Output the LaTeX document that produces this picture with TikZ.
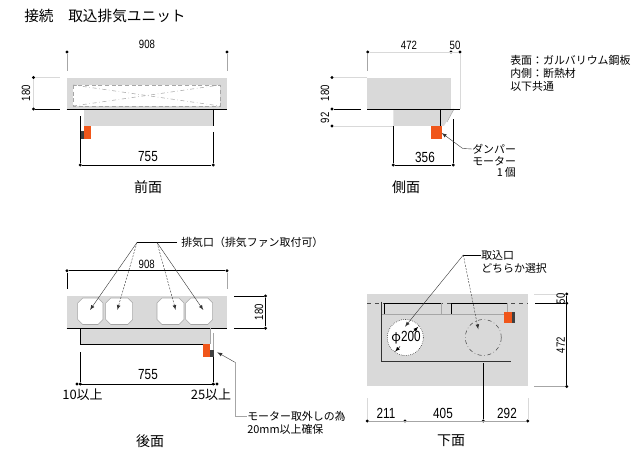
\documentclass[tikz,border=0pt]{standalone}
\usepackage{fontspec}
\setmainfont{Noto Sans CJK JP}
\newfontfamily\digitfont[FakeStretch=0.8]{Liberation Sans}
\definecolor{panelgray}{HTML}{D9D9D9}
\definecolor{motorred}{HTML}{F0561A}
\definecolor{motordark}{HTML}{404040}
\tikzset{
  dimdot/.style={circle,fill=black,inner sep=0pt,minimum size=2.4pt},
  dimline/.style={black,line width=0.6pt},
  thinline/.style={gray!70,line width=0.4pt},
  paleline/.style={gray!30,line width=0.3pt},
  panel/.style={fill=panelgray,draw=none},
  motor/.style={fill=motorred,draw=none},
  motorend/.style={fill=motordark,draw=none},
  note/.style={inner sep=0pt,anchor=west,font=\fontsize{8.2pt}{10pt}\selectfont},
  smalldim/.style={inner sep=0pt,font=\digitfont\fontsize{9pt}{10pt}\selectfont},
  bigdim/.style={inner sep=0pt,font=\digitfont\fontsize{11pt}{13pt}\selectfont},
  viewname/.style={inner sep=0pt,font=\fontsize{10.5pt}{12pt}\selectfont},
  clearance/.style={inner sep=0pt,font=\fontsize{9.75pt}{11pt}\selectfont},
  lead/.style={->,>=latex,line width=0.3pt,black!80},
  leaddash/.style={lead,dash pattern=on 1.5pt off 1pt}
}
\begin{document}
\begin{tikzpicture}[x=0.75pt,y=-0.75pt]
  \useasboundingbox (0,0) rectangle (640,452);
  \node[inner sep=0pt,anchor=west,font=\fontsize{11pt}{13pt}\selectfont] (title) at (24,16) {接続　取込排気ユニット};

  % front
  \fill[panel] (66.7,78) rectangle (226.7,109);
  \fill[white] (73,85) rectangle (220,106);
  \draw[thinline,densely dashed] (73,85) rectangle (220,106);
  \draw[thinline,dash dot] (73,85) -- (220,106);
  \draw[thinline,dash dot] (73,106) -- (220,85);
  \fill[panel] (84,109) rectangle (213,126);
  \draw[dimline] (66.7,109) -- (226.7,109);
  \fill[motor] (84,126) rectangle (91,139);
  \fill[motorend] (80,131) rectangle (84,139);
  \node[dimdot] (fa) at (67,52) {};
  \node[dimdot] (fb) at (227,52) {};
  \coordinate (fa1) at (67,71);
  \coordinate (fb1) at (227,71);
  \draw[thinline] (fa) -- (fa1);
  \draw[thinline] (fb) -- (fb1);
  \node[smalldim] (f908) at (147,44) {908};
  \node[dimdot] (fc) at (33.5,77.5) {};
  \node[dimdot] (fd) at (33.5,109) {};
  \coordinate (fd1) at (60,109);
  \coordinate (fc1) at (60,77.5);
  \draw[dimline] (fd) -- (fd1);
  \draw[paleline] (fc) -- (fc1);
  \draw[paleline] (fc) -- (fd);
  \node[smalldim,rotate=90] (f180) at (26,93) {180};
  \node[dimdot] (fe) at (80.3,165) {};
  \node[dimdot] (ff) at (213.3,165) {};
  \coordinate (fe1) at (80.3,116);
  \coordinate (ff1) at (213.3,109);
  \coordinate (ff2) at (213.3,126);
  \coordinate (ff3) at (213.3,132);
  \draw[dimline] (fe) -- (fe1);
  \draw[dimline] (ff1) -- (ff2);
  \draw[dimline] (ff3) -- (ff);
  \draw[dimline] (fe) -- (ff);
  \node[bigdim] (f755) at (148,157) {755};
  \node[viewname] (fname) at (148,187) {前面};

  % side
  \fill[panel] (367.3,78) rectangle (451,109);
  \fill[panel] (393.3,109) -- (454,109) -- (444,126) -- (393.3,126) -- cycle;
  \draw[thinline] (454,109) -- (447,122);
  \node[dimdot] (sa) at (332,77.5) {};
  \node[dimdot] (sb) at (332,109) {};
  \node[dimdot] (sc) at (332,126) {};
  \coordinate (sa1) at (367,77.5);
  \coordinate (sb1) at (361,109);
  \coordinate (sb2) at (367.3,109);
  \coordinate (sb3) at (460,109);
  \coordinate (sc1) at (393.3,126);
  \draw[paleline] (sa) -- (sa1);
  \draw[dimline] (sb) -- (sb1);
  \draw[dimline] (sb2) -- (sb3);
  \draw[paleline] (sc) -- (sc1);
  \draw[dimline] (440.3,109) -- (440.3,126);
  \fill[motor] (431.3,126) rectangle (442.3,138.7);
  \node[smalldim,rotate=90] (s180) at (325,93) {180};
  \node[smalldim,rotate=90] (s92) at (325,118) {92};
  \node[dimdot] (sd) at (367.7,52) {};
  \node[dimdot] (se) at (451,52) {};
  \node[dimdot] (sf) at (460,52) {};
  \coordinate (sd1) at (367.7,71);
  \coordinate (sf1) at (460,109);
  \draw[paleline] (sd) -- (sf);
  \draw[thinline] (sd) -- (sd1);
  \draw[paleline] (sf) -- (sf1);
  \node[smalldim] (s472) at (409,45) {472};
  \node[smalldim] (s50) at (455,45) {50};
  \node[dimdot] (sg) at (393.3,165) {};
  \node[dimdot] (sh) at (453.3,165) {};
  \coordinate (sg1) at (393.3,126);
  \coordinate (sh1) at (453.3,119);
  \draw[dimline] (sg) -- (sg1);
  \draw[dimline] (sh) -- (sh1);
  \draw[dimline] (sg) -- (sh);
  \node[bigdim] (s356) at (425,157) {356};
  \node[viewname] (sname) at (406,187) {側面};
  \node[note] (damper) at (472,149) {ダンパー};
  \node[note] (motorlabel) at (472,161) {モーター};
  \node[note,anchor=east] (onepiece) at (516,172) {1\,個};
  \coordinate (sl1) at (462.7,148.5);
  \draw[lead] (damper.west) -- (sl1) -- (441.7,133);
  \node[note] (skin) at (510,60.5) {表面：ガルバリウム鋼板};
  \node[note] (inner) at (510,73) {内側：断熱材};
  \node[note] (common) at (510,86) {以下共通};

  % rear
  \fill[panel] (66.7,296) rectangle (226.7,328.3);
  \foreach \xa/\xb in {77.7/103,105.7/132.7,157/184,185.7/212.7}{
    \filldraw[fill=white,draw=gray!70,line width=0.4pt] (\xa+5,298) -- (\xb-5,298) -- (\xb,303) -- (\xb,319.5) -- (\xb-5,324.5) -- (\xa+5,324.5) -- (\xa,319.5) -- (\xa,303) -- cycle;
  }
  \fill[panel] (80.3,328.3) rectangle (210,344.7);
  \draw[dimline] (66.7,328.3) -- (226.7,328.3);
  \draw[dimline] (80.3,328.3) -- (80.3,344.7) -- (210,344.7);
  \draw[thinline] (213.3,333) -- (213.3,350);
  \draw[thinline] (210,328.3) -- (210,344);
  \fill[motor] (203,344.3) rectangle (210,357);
  \fill[motorend] (210,350) rectangle (213.5,357);
  \node[dimdot] (ra) at (67,270.7) {};
  \node[dimdot] (rb) at (227,270.7) {};
  \coordinate (ra1) at (67,289);
  \coordinate (rb1) at (227,289);
  \draw[dimline] (ra) -- (rb);
  \draw[dimline] (ra) -- (ra1);
  \draw[thinline] (rb) -- (rb1);
  \node[smalldim] (r908) at (146.7,264) {908};
  \node[dimdot] (rc) at (265.5,296) {};
  \node[dimdot] (rd) at (265.5,328.3) {};
  \coordinate (rc1) at (234,296);
  \coordinate (rd1) at (234,328.3);
  \draw[dimline] (rc) -- (rd);
  \draw[dimline] (rc) -- (rc1);
  \draw[dimline] (rd) -- (rd1);
  \node[smalldim,rotate=90] (r180) at (259,312) {180};
  \node[dimdot] (re) at (80.3,384) {};
  \node[dimdot] (rf) at (213.3,384) {};
  \node[dimdot] (rg) at (77,384) {};
  \node[dimdot] (rh) at (217,384) {};
  \coordinate (re1) at (80.3,351.7);
  \coordinate (rf1) at (213.3,357);
  \draw[dimline] (re) -- (re1);
  \draw[dimline] (rf) -- (rf1);
  \draw[dimline] (rg) -- (rh);
  \node[bigdim] (r755) at (148,375) {755};
  \node[clearance] (r10) at (82.5,394.5) {10以上};
  \node[clearance] (r25) at (211,394.5) {25以上};
  \node[viewname] (rname) at (150,441) {後面};
  \node[note] (exhaust) at (181,242.5) {排気口（排気ファン取付可）};
  \coordinate (ex0) at (137,242.5);
  \coordinate (ex1) at (157,242.5);
  \draw[line width=0.5pt] (exhaust.west) ++(-4,0) -- (ex0);
  \draw[lead] (ex0) -- (90,310);
  \draw[leaddash] (ex0) -- (117.3,310);
  \draw[leaddash] (ex1) -- (175.7,310);
  \draw[lead] (ex1) -- (203.3,310);
  \node[note] (removal) at (247,416.5) {モーター取外しの為};
  \node[note] (clearnote) at (247,429) {20mm以上確保};
  \coordinate (rl1) at (235,362.3);
  \coordinate (rl2) at (235,416.5);
  \draw[thinline] (removal.west) -- (rl2) -- (rl1);
  \draw[lead] (rl1) -- (217.3,352.3);

  % bottom
  \fill[panel] (367.3,294.3) rectangle (527.7,386);
  \draw[black!70,line width=0.5pt,dashed] (367.3,303.3) -- (527.7,303.3);
  \draw[thinline] (381.3,314.3) -- (507.7,314.3);
  \draw[black!80,line width=0.5pt] (381.3,301.7) -- (381.3,361) -- (510.7,361);
  \draw[dimline] (384.3,303.3) -- (384.3,314.3);
  \draw[dimline] (384.3,303.3) -- (441.7,303.3);
  \draw[dimline] (451,303.3) -- (507.7,303.3);
  \draw[thinline] (441.7,303.3) -- (441.7,314.3);
  \draw[dimline] (451,303.3) -- (451,314.3);
  \draw[thinline] (507.7,303.3) -- (507.7,314.3);
  \node[circle,fill=white,draw=black,densely dotted,line width=0.4pt,minimum size=27pt,inner sep=0pt] (port) at (405.3,337.5) {};
  \node[circle,draw=gray!60!black,dash dot,line width=0.4pt,minimum size=27pt,inner sep=0pt] (altport) at (483.3,337.5) {};
  \fill[motor] (504.3,311.7) rectangle (511.7,323.3);
  \fill[motorend] (511.7,311.7) rectangle (515,323.3);
  \node[inner sep=0pt,font=\fontsize{9.5pt}{11pt}\selectfont] (phi) at (406,338) {φ{\digitfont\fontsize{11pt}{13pt}\selectfont 200}};
  \coordinate (ph1) at (395,351.7);
  \coordinate (ph2) at (418.3,326.7);
  \coordinate (ph3) at (400,346.5);
  \coordinate (ph4) at (413,332);
  \draw[->,>=latex,line width=0.3pt] (ph3) -- (ph1);
  \draw[->,>=latex,line width=0.3pt] (ph4) -- (ph2);
  \node[note] (intake) at (481,255) {取込口};
  \node[note] (choice) at (481,268) {どちらか選択};
  \coordinate (in0) at (463.3,255);
  \draw[line width=0.3pt] (intake.west) -- (in0);
  \draw[lead] (in0) -- (405,326.7);
  \draw[leaddash] (in0) -- (478.3,329.3);
  \node[dimdot] (ba) at (566.7,294) {};
  \node[dimdot] (bb) at (566.7,303.3) {};
  \node[dimdot] (bc) at (566.7,386.5) {};
  \coordinate (ba1) at (534,294);
  \coordinate (bb1) at (535,303.3);
  \coordinate (bc1) at (534,386.5);
  \draw[dimline] (ba) -- (bc);
  \draw[paleline] (ba) -- (ba1);
  \draw[dimline] (bb) -- (bb1);
  \draw[thinline] (bc) -- (bc1);
  \node[smalldim,rotate=90] (b50) at (560.7,299) {50};
  \node[smalldim,rotate=90] (b472) at (560.7,345) {472};
  \node[dimdot] (bd) at (367.3,421) {};
  \node[dimdot] (be) at (405,421) {};
  \node[dimdot] (bf) at (483.3,421) {};
  \node[dimdot] (bg) at (527.7,421) {};
  \coordinate (bd1) at (367.3,398);
  \coordinate (bf1) at (483.3,363.3);
  \coordinate (bg1) at (527.7,398);
  \draw[thinline] (bd) -- (bg);
  \draw[paleline] (bd) -- (bd1);
  \draw[dimline] (bf) -- (bf1);
  \draw[paleline] (bg) -- (bg1);
  \node[bigdim] (b211) at (386,413) {211};
  \node[bigdim] (b405) at (443,413) {405};
  \node[bigdim] (b292) at (507,413) {292};
  \node[viewname] (bname) at (451,441) {下面};
\end{tikzpicture}
\end{document}
